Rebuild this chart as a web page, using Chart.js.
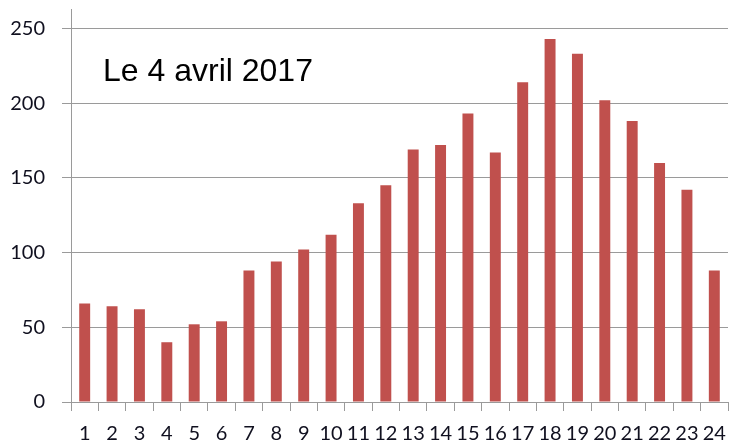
<!DOCTYPE html>
<html>
<head>
<meta charset="utf-8">
<script src="https://cdn.jsdelivr.net/npm/chart.js@4/dist/chart.umd.min.js"></script>
<style>
  html, body { margin: 0; padding: 0; background: #fff; }
  #wrap { width: 729px; height: 442px; }
</style>
</head>
<body>
<div id="wrap"><canvas id="c" width="729" height="442"></canvas></div>
<script>
const hours = ['1','2','3','4','5','6','7','8','9','10','11','12','13','14','15','16','17','18','19','20','21','22','23','24'];
const counts = [66, 64, 62, 40, 52, 54, 88, 94, 102, 112, 133, 145, 169, 172, 193, 167, 214, 243, 233, 202, 188, 160, 142, 88];
const yTicks = [0, 50, 100, 150, 200, 250];
const yMax = 263;
const titleText = 'Le 4 avril 2017';

const titlePlugin = {
  id: 'insideTitle',
  afterDraw(chart) {
    const ctx = chart.ctx;
    ctx.save();
    ctx.font = '32px "Liberation Sans", Arial, sans-serif';
    ctx.fillStyle = '#000';
    ctx.textAlign = 'left';
    ctx.textBaseline = 'alphabetic';
    ctx.fillText(titleText, 103, 81);
    ctx.restore();
  }
};

const gridColor = '#9a9a9a';
const tickFont = { family: 'Lato', size: 20 };
const tickColor = '#10101f';

new Chart(document.getElementById('c'), {
  type: 'bar',
  data: {
    labels: hours,
    datasets: [{
      data: counts,
      backgroundColor: '#C0504D',
      borderWidth: 0,
      barPercentage: 0.5,
      categoryPercentage: 0.8
    }]
  },
  options: {
    responsive: false,
    animation: false,
    devicePixelRatio: 1,
    layout: { padding: { top: 9, right: 1, left: 0, bottom: 0 } },
    plugins: { legend: { display: false }, tooltip: { enabled: false }, title: { display: false } },
    scales: {
      x: {
        grid: { display: true, drawOnChartArea: false, drawTicks: true, tickLength: 9, color: gridColor, offset: true },
        border: { display: true, color: gridColor, width: 1 },
        ticks: { font: tickFont, color: tickColor, padding: 11, maxRotation: 0, autoSkip: false },
        afterFit(scale) { scale.height = 40; scale.paddingLeft = 0; scale.paddingRight = 0; }
      },
      y: {
        min: 0,
        max: yMax,
        grid: { display: true, drawOnChartArea: true, drawTicks: true, tickLength: 9, color: gridColor },
        border: { display: true, color: gridColor, width: 1 },
        ticks: { font: tickFont, color: tickColor, padding: 17 },
        afterBuildTicks(scale) { scale.ticks = yTicks.map(v => ({ value: v })); },
        afterFit(scale) { scale.width = 71; scale.paddingTop = 0; scale.paddingBottom = 0; }
      }
    }
  },
  plugins: [titlePlugin]
});
</script>
</body>
</html>
